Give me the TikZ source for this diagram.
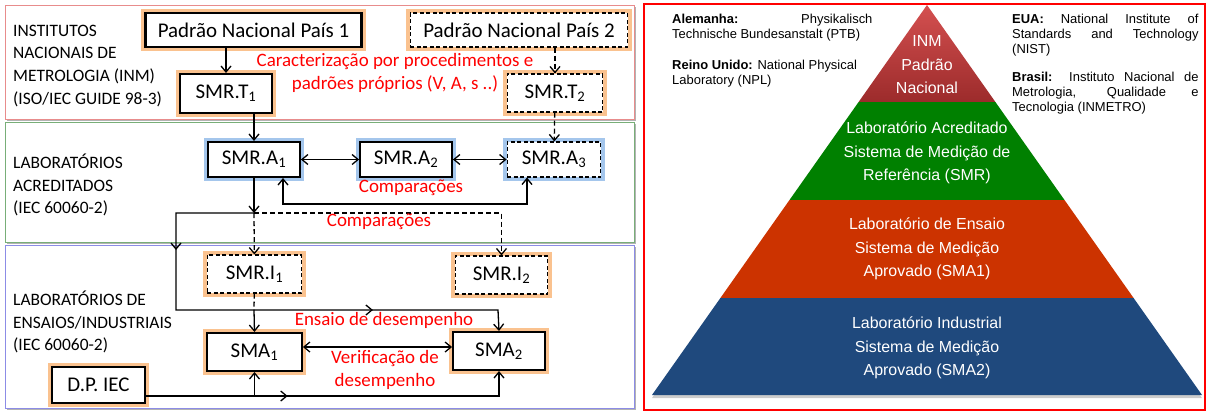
\documentclass[tikz,border=0pt]{standalone}
\usepackage{fontspec}
\setmainfont{Carlito}
\newfontfamily\arialfont{Liberation Sans}
\usetikzlibrary{arrows.meta,shadows,decorations.markings}

\definecolor{glowor}{HTML}{FAC28F}
\definecolor{glowbl}{HTML}{A4C6EC}
\definecolor{bandred}{HTML}{E88C8C}
\definecolor{bandgreen}{HTML}{78AE78}
\definecolor{bandblue}{HTML}{8C8CE6}
\definecolor{pyrredtop}{HTML}{D45050}
\definecolor{pyrredbot}{HTML}{9C2B2B}
\definecolor{pyrgreen}{HTML}{008000}
\definecolor{pyrorange}{HTML}{CC3300}
\definecolor{pyrblue}{HTML}{1F497D}
\definecolor{labred}{HTML}{FF0000}

\newcommand\boxfont{\fontsize{21}{25}\selectfont}
\newcommand\bandfont{\fontsize{17.5}{23}\selectfont}
\newcommand\redfont{\fontsize{19}{23}\selectfont}
\newcommand\pyrfont{\arialfont\fontsize{16}{23.5}\selectfont}
\newcommand\sidefont{\arialfont\fontsize{13}{15}\selectfont}

\tikzset{
  box/.style={draw, line width=2.2bp, fill=white, inner sep=0pt, font=\boxfont},
  dbox/.style={draw, dash pattern=on 4bp off 2.5bp, line width=1.2bp, fill=white, inner sep=0pt, font=\boxfont},
  glowo/.style={preaction={draw=glowor, solid, line width=8bp}},
  glowb/.style={preaction={draw=glowbl, solid, line width=8bp}},
  tip/.tip={Straight Barb[length=6bp,width=10bp]},
  arr/.style={-tip, line width=1.3bp},
  dblarr/.style={tip-tip, line width=1.3bp},
  dline/.style={dash pattern=on 5bp off 3bp},
  midarr/.style={postaction={decorate, decoration={markings,
      mark=at position #1 with {\arrow{tip}}}}},
  band/.style={line width=1bp, fill=white,
      drop shadow={shadow xshift=2bp, shadow yshift=-2bp, opacity=0.6}},
  redlab/.style={text=labred, font=\redfont, align=center, inner sep=0pt},
  bandlab/.style={anchor=west, align=left, font=\bandfont, inner sep=0pt},
  pyrtext/.style={text=white, align=center, font=\pyrfont, inner sep=0pt},
  sidetext/.style={anchor=north west, align=justify, font=\sidefont, inner sep=0pt}
}

\begin{document}
\begin{tikzpicture}[x=1bp,y=-1bp]
\useasboundingbox (0,0) rectangle (1209,414);

\draw[band, draw=bandred] (5,5) rectangle (634,119);
\draw[band, draw=bandgreen] (5,122) rectangle (634,242);
\draw[band, draw=bandblue] (5,245) rectangle (634,408);

\node[bandlab] (inm) at (13,66) {INSTITUTOS\\NACIONAIS DE\\METROLOGIA (INM)\\(ISO/IEC GUIDE 98-3)};
\node[bandlab] (acr) at (13,185) {LABORATÓRIOS\\ACREDITADOS\\(IEC 60060-2)};
\node[bandlab] (ind) at (13,322) {LABORATÓRIOS DE\\ENSAIOS/INDUSTRIAIS\\(IEC 60060-2)};

\node[box, glowo, minimum width=217, minimum height=34] (P1) at (253.5,30) {Padrão Nacional País 1};
\node[dbox, glowo, minimum width=218, minimum height=34] (P2) at (519,30) {Padrão Nacional País 2};
\node[box, glowo, minimum width=92, minimum height=39] (T1) at (226,93.5) {SMR.T\textsubscript{1}};
\node[dbox, glowo, minimum width=96, minimum height=38] (T2) at (555,93) {SMR.T\textsubscript{2}};
\node[box, glowb, minimum width=92, minimum height=35] (A1) at (254,159.5) {SMR.A\textsubscript{1}};
\node[box, glowb, minimum width=92, minimum height=35] (A2) at (406,159.5) {SMR.A\textsubscript{2}};
\node[dbox, glowb, minimum width=94, minimum height=35] (A3) at (554,159.5) {SMR.A\textsubscript{3}};
\node[dbox, glowo, minimum width=95, minimum height=38] (I1) at (254.5,274) {SMR.I\textsubscript{1}};
\node[dbox, glowo, minimum width=93, minimum height=38] (I2) at (501.5,275) {SMR.I\textsubscript{2}};
\node[box, glowo, minimum width=95, minimum height=38] (S1) at (254.5,352) {SMA\textsubscript{1}};
\node[box, glowo, minimum width=92, minimum height=38] (S2) at (499,351) {SMA\textsubscript{2}};
\node[box, glowo, minimum width=93, minimum height=36] (DP) at (98.5,385) {D.P. IEC};

\coordinate (j1) at (254,213);
\coordinate (c1) at (176,213);
\coordinate (c2) at (176,310);
\coordinate (c3) at (498,310);
\coordinate (j2) at (254,310);
\coordinate (dpout) at ([yshift=-11bp]DP.east);
\coordinate (verout) at ([yshift=5bp]S1.east);

\draw[arr] (P1.south -| T1.north) -- (T1.north);
\draw[arr, dline] (P2.south -| T2.north) -- (T2.north);
\draw[arr] (T1.south -| A1.north) -- (A1.north);
\draw[arr, dline] (T2) -- (A3);
\draw[dblarr] (A1) -- (A2);
\draw[dblarr] (A2) -- (A3);
\draw[dblarr] ([xshift=29bp]A1.south) -- ++(0,26) -| ([xshift=-27bp]A3.south);
\draw[arr] (A1) -- (j1);
\draw[arr, midarr=0.222, midarr=0.718] (j1) -- (c1) -- (c2) -- (c3) -- (S2.north);
\draw[arr, dline] (j1) -- (I1);
\draw[arr, dline] (j1) -| (I2.north);
\draw[line width=1.3bp, dline] (I1) -- (j2);
\draw[arr] (j2) -- (S1.north);
\draw[dblarr] (verout) -- (verout -| S2.west);
\draw[arr, midarr=0.375] (dpout) -| (S2.south);
\draw[arr] (dpout -| S1.south) -- (S1.south);

\node[redlab] (car) at (395,72.5) {Caracterização por procedimentos e\\padrões próprios (V, A, s ..)};
\node[redlab] (cmpa) at (411,188) {Comparações};
\node[redlab] (cmpb) at (379,222) {Comparações};
\node[redlab] (ens) at (384,320) {Ensaio de desempenho};
\node[redlab] (ver) at (385,370) {Verificação de\\desempenho};

\draw[red, line width=2bp] (644,4) rectangle (1205,410);
\shade[top color=pyrredtop, bottom color=pyrredbot] (927,5) -- (995.4,102) -- (858.6,102) -- cycle;
\fill[pyrgreen] (858.6,102) -- (995.4,102) -- (1064.5,200) -- (789.5,200) -- cycle;
\fill[pyrorange] (789.5,200) -- (1064.5,200) -- (1133.6,298) -- (720.4,298) -- cycle;
\fill[pyrblue, drop shadow={shadow xshift=0bp, shadow yshift=-3bp, opacity=0.4}] (720.4,298) -- (1133.6,298) -- (1202,395) -- (652,395) -- cycle;

\node[pyrtext] (lvinm) at (927,65) {INM\\Padrão\\Nacional};
\node[pyrtext] (lvsmr) at (927,153) {Laboratório Acreditado\\Sistema de Medição de\\Referência (SMR)};
\node[pyrtext] (lvsma1) at (927,249) {Laboratório de Ensaio\\Sistema de Medição\\Aprovado (SMA1)};
\node[pyrtext] (lvsma2) at (927,348) {Laboratório Industrial\\Sistema de Medição\\Aprovado (SMA2)};

\node[sidetext, text width=201] (ale) at (672,14) {\textbf{Alemanha:} Physikalisch\linebreak Technische Bundesanstalt (PTB)};
\node[sidetext, text width=201] (rei) at (672,60) {\textbf{Reino Unido:} National Physical\\Laboratory (NPL)};
\node[sidetext, text width=187] (eua) at (1012,14) {\textbf{EUA:} National Institute of\linebreak Standards and Technology\linebreak (NIST)};
\node[sidetext, text width=187] (bra) at (1012,72) {\textbf{Brasil:} Instituto Nacional de\linebreak Metrologia, Qualidade e\linebreak Tecnologia (INMETRO)};
\end{tikzpicture}
\end{document}
